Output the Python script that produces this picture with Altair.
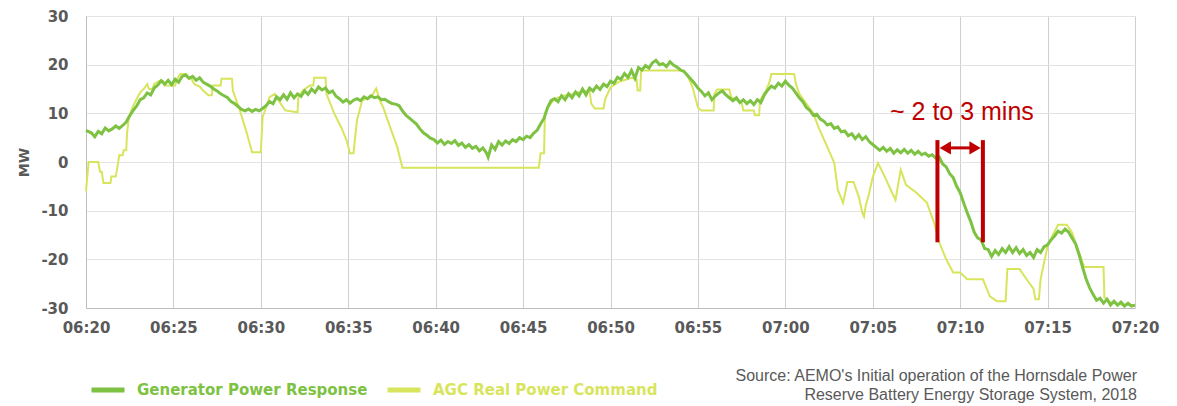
import altair as alt
import pandas as pd

# ---------------- data ----------------
tick_labels = ["06:20", "06:25", "06:30", "06:35", "06:40", "06:45", "06:50",
               "06:55", "07:00", "07:05", "07:10", "07:15", "07:20"]
y_ticks = [-30, -20, -10, 0, 10, 20, 30]
series_names = ["Generator Power Response", "AGC Real Power Command"]

gen_t = [0.0, 0.3, 0.5, 0.7, 0.9, 1.1, 1.3, 1.5, 1.7, 1.9, 2.1, 2.3, 2.5, 2.7, 2.9,
         3.1, 3.3, 3.5, 3.7, 3.9, 4.1, 4.3, 4.5, 4.7, 4.9, 5.1, 5.3, 5.5, 5.7, 5.9,
         6.1, 6.3, 6.5, 6.7, 6.9, 7.1, 7.3, 7.5, 7.7, 7.9, 8.1, 8.3, 8.5, 8.7, 8.9,
         9.1, 9.3, 9.5, 9.7, 9.9, 10.1, 10.3, 10.5, 10.7, 10.9, 11.1, 11.3, 11.5, 11.7, 11.9,
         12.1, 12.3, 12.5, 12.7, 12.9, 13.1, 13.3, 13.5, 13.7, 13.9, 14.1, 14.3, 14.5, 14.7, 14.9,
         15.1, 15.3, 15.5, 15.7, 15.9, 16.1, 16.3, 16.5, 16.7, 16.9, 17.1, 17.3, 17.5, 17.7, 17.9,
         18.1, 18.3, 18.5, 18.7, 18.9, 19.1, 19.3, 19.5, 19.7, 19.9, 20.1, 20.3, 20.5, 20.7, 20.9,
         21.1, 21.3, 21.5, 21.7, 21.9, 22.1, 22.3, 22.5, 22.7, 22.9, 23.0, 23.2, 23.4, 23.6, 23.8,
         24.0, 24.2, 24.4, 24.6, 24.8, 25.0, 25.2, 25.4, 25.6, 25.8, 26.0, 26.2, 26.4, 26.6, 26.8,
         27.0, 27.2, 27.4, 27.6, 27.8, 28.0, 28.2, 28.4, 28.6, 28.8, 29.0, 29.2, 29.4, 29.6, 29.8,
         30.0, 30.2, 30.4, 30.6, 30.8, 31.0, 31.2, 31.4, 31.6, 31.8, 32.0, 32.2, 32.4, 32.6, 32.8,
         33.0, 33.2, 33.4, 33.6, 33.8, 34.0, 34.2, 34.4, 34.6, 34.8, 35.0, 35.2, 35.4, 35.6, 35.8,
         36.0, 36.2, 36.4, 36.6, 36.8, 37.0, 37.2, 37.4, 37.6, 37.8, 38.0, 38.2, 38.4, 38.6, 38.8,
         39.0, 39.2, 39.4, 39.6, 39.8, 40.0, 40.2, 40.4, 40.6, 40.8, 41.0, 41.2, 41.4, 41.6, 41.8,
         42.0, 42.2, 42.4, 42.6, 42.8, 43.0, 43.2, 43.4, 43.6, 43.8, 44.0, 44.2, 44.4, 44.6, 44.8,
         45.0, 45.2, 45.4, 45.6, 45.8, 46.0, 46.2, 46.4, 46.6, 46.8, 47.0, 47.2, 47.4, 47.6, 47.8,
         48.0, 48.2, 48.4, 48.6, 48.8, 49.0, 49.2, 49.4, 49.6, 49.8, 50.0, 50.2, 50.4, 50.6, 50.8,
         51.0, 51.2, 51.4, 51.6, 51.8, 52.0, 52.2, 52.4, 52.6, 52.8, 53.0, 53.2, 53.4, 53.6, 53.8,
         54.0, 54.2, 54.4, 54.6, 54.8, 55.0, 55.2, 55.4, 55.6, 55.8, 56.0, 56.2, 56.4, 56.6, 56.8,
         57.0, 57.2, 57.4, 57.6, 57.8, 58.0, 58.2, 58.4, 58.6, 58.8, 59.0, 59.2, 59.4, 59.6, 59.8,
         60.0]
gen_v = [6.5, 6.0, 5.2, 6.3, 5.8, 7.0, 6.4, 6.8, 7.4, 6.9, 7.5, 8.2, 9.5, 10.6, 11.5,
         12.8, 13.2, 14.2, 13.8, 15.2, 15.8, 16.7, 16.0, 16.8, 15.9, 17.0, 16.4, 17.6, 17.9, 17.2,
         17.6, 16.8, 17.3, 16.4, 16.0, 15.6, 15.0, 14.6, 14.0, 13.6, 13.2, 12.4, 12.0, 11.4, 10.8,
         10.5, 10.9, 10.4, 10.8, 10.5, 11.0, 11.6, 12.4, 12.0, 13.4, 12.8, 13.8, 12.9, 14.2, 13.2,
         14.0, 13.5, 14.6, 13.9, 15.0, 14.3, 15.4, 14.8, 15.2, 14.2, 14.6, 13.5, 13.0, 12.3, 12.8,
         12.1, 12.7, 13.0, 12.6, 13.4, 13.0, 13.6, 13.2, 13.4, 12.8, 12.9, 12.4, 12.0, 11.9, 11.6,
         10.5, 9.6, 9.0, 8.4, 7.8, 6.8, 6.0, 5.5, 4.9, 4.6, 3.9, 4.5, 3.6, 4.2, 3.8,
         4.4, 3.4, 3.9, 3.0, 3.6, 2.8, 3.2, 2.3, 2.9, 1.9, 1.0, 3.5, 2.6, 4.2, 3.5,
         4.3, 3.8, 4.6, 4.2, 5.0, 4.6, 5.3, 5.0, 5.9, 6.5, 7.8, 9.0, 11.2, 12.6, 13.0,
         12.4, 13.6, 12.8, 14.0, 13.2, 14.4, 13.6, 15.0, 13.8, 15.2, 14.6, 15.6, 14.9, 16.0, 15.5,
         16.6, 16.2, 17.4, 17.0, 18.2, 17.4, 18.8, 17.2, 19.4, 18.9, 19.8, 19.3, 20.4, 20.9, 20.0,
         20.2, 19.6, 20.6, 19.9, 19.5, 18.9, 18.6, 17.8, 17.0, 16.2, 15.2, 14.5, 13.6, 14.2, 12.8,
         13.6, 14.2, 14.6, 13.8, 13.2, 12.6, 13.2, 12.2, 12.8, 12.0, 12.6, 11.8, 12.8, 12.2, 13.8,
         14.8, 15.6, 15.2, 16.2, 15.6, 16.6, 15.8, 15.2, 14.2, 13.2, 12.4, 11.2, 10.6, 9.6, 9.8,
         8.8, 8.4, 7.6, 7.9, 6.9, 7.2, 6.2, 6.4, 5.4, 5.8, 4.8, 5.6, 4.6, 5.2, 4.2,
         3.6, 3.0, 2.4, 3.0, 2.2, 2.8, 1.8, 2.5, 1.9, 2.6, 1.8, 2.4, 1.6, 2.2, 1.5,
         1.8, 1.2, 1.5, 0.8, 1.0, -0.4, -1.0, -2.4, -3.2, -5.0, -6.3, -8.4, -10.4, -12.2, -14.4,
         -15.6, -16.0, -17.8, -18.0, -19.4, -18.2, -19.0, -17.8, -18.6, -17.4, -18.6, -17.6, -18.8, -18.0, -19.2,
         -18.6, -19.6, -18.0, -18.6, -17.4, -17.0, -16.0, -15.2, -14.2, -14.6, -13.8, -14.4, -15.6, -16.8, -19.0,
         -21.6, -24.0, -25.8, -27.2, -28.4, -28.0, -29.0, -28.2, -29.4, -28.6, -29.4, -28.8, -29.6, -29.0, -29.6,
         -29.4]

agc_t = [0.0, 0.15, 0.7, 0.8, 0.9, 1.0, 1.4, 1.45, 1.7, 1.8, 1.9, 2.1, 2.15, 2.3, 2.35,
         2.45, 2.55, 2.7, 2.9, 3.1, 3.3, 3.5, 3.6, 3.8, 3.9, 4.2, 4.4, 4.5, 5.1, 5.2,
         5.4, 5.7, 5.8, 6.0, 6.2, 6.5, 6.7, 7.0, 7.2, 7.25, 7.7, 7.75, 8.35, 8.4, 8.8,
         9.2, 9.5, 10.0, 10.1, 10.3, 10.5, 10.8, 11.0, 11.4, 12.1, 12.15, 12.4, 12.8, 13.0, 13.05,
         13.7, 13.75, 14.2, 14.6, 14.9, 15.1, 15.3, 15.5, 15.8, 16.3, 16.6, 16.8, 17.0, 17.4, 17.8,
         18.1, 25.9, 26.0, 26.2, 26.25, 26.5, 26.8, 27.3, 27.8, 28.3, 28.8, 28.9, 29.1, 29.6, 29.7,
         30.0, 30.5, 31.2, 31.5, 31.55, 31.7, 31.75, 34.2, 34.4, 34.7, 35.0, 35.2, 35.9, 35.95, 36.1,
         36.8, 36.9, 37.5, 37.6, 38.2, 38.25, 38.5, 38.55, 38.9, 39.1, 39.2, 40.5, 40.6, 40.8, 41.2,
         41.6, 41.9, 42.3, 42.8, 43.0, 43.3, 43.55, 43.9, 44.2, 44.4, 44.5, 44.6, 44.8, 45.0, 45.3,
         45.7, 46.0, 46.3, 46.6, 46.9, 47.5, 48.1, 48.5, 48.8, 49.2, 49.6, 50.0, 50.4, 51.3, 51.7,
         52.1, 52.6, 52.7, 53.4, 53.8, 54.2, 54.3, 54.5, 54.6, 55.0, 55.3, 55.6, 56.1, 56.4, 56.8,
         57.1, 58.2, 58.25, 58.6, 59.0, 59.5, 60.0]
agc_v = [-6.0, 0.0, 0.0, -2.0, -2.0, -4.3, -4.3, -3.0, -3.0, -1.0, 1.4, 1.4, 2.4, 2.4, 6.0,
         9.0, 10.2, 11.5, 13.0, 14.3, 15.0, 16.0, 15.0, 15.0, 16.0, 16.7, 16.7, 15.7, 15.7, 17.0,
         18.1, 18.1, 17.3, 17.3, 16.0, 15.5, 14.7, 13.7, 13.7, 15.7, 15.7, 17.1, 17.1, 14.7, 10.6,
         5.9, 2.0, 2.0, 9.2, 11.2, 13.3, 14.0, 12.7, 10.6, 10.2, 13.3, 14.7, 15.7, 15.7, 17.3,
         17.3, 14.0, 10.0, 7.1, 4.5, 1.8, 1.8, 8.6, 12.7, 13.3, 15.1, 12.7, 11.2, 7.1, 3.1,
         -1.2, -1.2, 1.8, 1.8, 10.0, 11.6, 13.0, 13.6, 14.0, 14.5, 14.7, 12.0, 11.0, 11.0, 13.0,
         15.3, 16.5, 17.3, 17.0, 14.7, 14.7, 18.8, 18.8, 17.8, 15.3, 11.2, 10.6, 10.6, 14.0, 14.9,
         14.9, 13.3, 12.2, 10.6, 10.6, 9.6, 9.6, 12.7, 14.7, 16.5, 18.1, 18.1, 16.1, 14.0, 12.0,
         10.0, 7.1, 3.9, -0.2, -5.7, -8.4, -4.1, -4.1, -7.1, -10.4, -11.2, -9.0, -6.3, -3.1, -0.2,
         -3.1, -5.5, -7.8, -1.6, -4.7, -6.3, -8.4, -12.4, -16.5, -20.0, -22.7, -22.7, -24.1, -24.1, -27.6,
         -28.6, -28.6, -22.0, -22.0, -24.1, -26.1, -28.2, -28.2, -24.1, -17.3, -15.0, -12.9, -12.9, -14.5, -18.6,
         -21.6, -21.6, -27.8, -28.8, -29.2, -29.4, -29.4]

ann_t = [48.7, 51.3]          # red marker lines
ann_top = [4.5, 4.5]
ann_bot = [-16.5, -16.5]
arrow_t = [49.15, 50.85]       # arrow head centres
arrow_shape = ["triangle-left", "triangle-right"]
arrow_v = 2.9
label_text = ["~ 2 to 3 mins"]
label_t = [50.1]
label_v = [10.2]
source_text = ["Source: AEMO's Initial operation of the Hornsdale Power\nReserve Battery Energy Storage System, 2018"]

# ---------------- styling ----------------
GEN_COL = "#7DC242"
AGC_COL = "#D8E55C"
RED = "#C00000"
GRAY = "#595959"

gen_df = pd.DataFrame({"t": gen_t, "v": gen_v, "series": series_names[0],
                       "i": list(range(len(gen_t)))})
agc_df = pd.DataFrame({"t": agc_t, "v": agc_v, "series": series_names[1],
                       "i": list(range(len(agc_t)))})

label_expr = "[" + ",".join("'" + s + "'" for s in tick_labels) + "][round(datum.value/5)]"

x_enc = alt.X("t:Q",
              scale=alt.Scale(domain=[0, 60], nice=False, zero=False),
              axis=alt.Axis(values=list(range(0, 61, 5)), labelExpr=label_expr, title=None,
                            grid=True, gridColor="#CFCFCF", domainColor="#BDBDBD",
                            ticks=False, labelFlush=False, labelPadding=12,
                            labelFont="DejaVu Sans", labelFontWeight="bold",
                            labelFontSize=15, labelColor=GRAY))
y_enc = alt.Y("v:Q",
              scale=alt.Scale(domain=[-30, 30], nice=False, zero=False),
              axis=alt.Axis(values=y_ticks, labelExpr="'' + datum.value", title="MW",
                            titleFont="DejaVu Sans", titleFontWeight="bold",
                            titleFontSize=14, titleColor=GRAY, titlePadding=9,
                            grid=True, gridColor="#E3E3E3", domainColor="#BDBDBD",
                            ticks=False, labelPadding=18, labelFont="DejaVu Sans",
                            labelFontWeight="bold", labelFontSize=15, labelColor=GRAY))

color_enc = alt.Color("series:N",
                      scale=alt.Scale(domain=series_names, range=[GEN_COL, AGC_COL]),
                      legend=alt.Legend(orient="none", legendX=3, legendY=355,
                                        direction="horizontal", title=None,
                                        symbolType="stroke", symbolStrokeWidth=5,
                                        symbolSize=1089, labelFont="DejaVu Sans",
                                        labelFontWeight="bold", labelFontSize=15,
                                        labelColor={"expr": "datum.label == '" + series_names[1] + "' ? '" + AGC_COL + "' : '" + GEN_COL + "'"},
                                        labelOffset=10, columnPadding=9, labelLimit=400,
                                        padding=0))

agc_line = alt.Chart(agc_df).mark_line(strokeWidth=2).encode(
    x=x_enc, y=y_enc, color=color_enc, order="i:Q")
gen_line = alt.Chart(gen_df).mark_line(strokeWidth=3).encode(
    x="t:Q", y="v:Q", color="series:N", order="i:Q")

ann_df = pd.DataFrame({"t": ann_t, "top": ann_top, "bot": ann_bot})
red_lines = alt.Chart(ann_df).mark_rule(color=RED, strokeWidth=4).encode(
    x="t:Q", y="top:Q", y2="bot:Q")

shaft_df = pd.DataFrame({"t": [arrow_t[0]], "t2": [arrow_t[1]], "v": [arrow_v]})
shaft = alt.Chart(shaft_df).mark_rule(color=RED, strokeWidth=3).encode(
    x="t:Q", x2="t2:Q", y="v:Q")

heads_df = pd.DataFrame({"t": arrow_t, "v": [arrow_v, arrow_v], "shape": arrow_shape})
heads = alt.Chart(heads_df).mark_point(filled=True, color=RED, opacity=1, size=170).encode(
    x="t:Q", y="v:Q",
    shape=alt.Shape("shape:N", scale=alt.Scale(domain=arrow_shape, range=arrow_shape),
                    legend=None))

label_df = pd.DataFrame({"t": label_t, "v": label_v, "text": label_text})
label = alt.Chart(label_df).mark_text(font="Liberation Sans", fontSize=25, color=RED,
                                      align="center", baseline="middle").encode(
    x="t:Q", y="v:Q", text="text:N")

source_df = pd.DataFrame({"text": source_text})
source = alt.Chart(source_df).mark_text(font="Liberation Sans", fontSize=16, color=GRAY,
                                        align="right", baseline="top", lineBreak="\n",
                                        lineHeight=19).encode(
    x=alt.value(1051), y=alt.value(352), text="text:N")

chart = alt.layer(agc_line, gen_line, red_lines, shaft, heads, label, source).properties(
    width=1049, height=292,
    autosize=alt.AutoSizeParams(type="none"),
    padding={"left": 78, "top": 8, "right": 34, "bottom": 98},
).configure_view(stroke=None).configure_axis(domainWidth=1, gridWidth=1)

chart.save("out.html", embed_options={"renderer": "svg", "actions": False})
